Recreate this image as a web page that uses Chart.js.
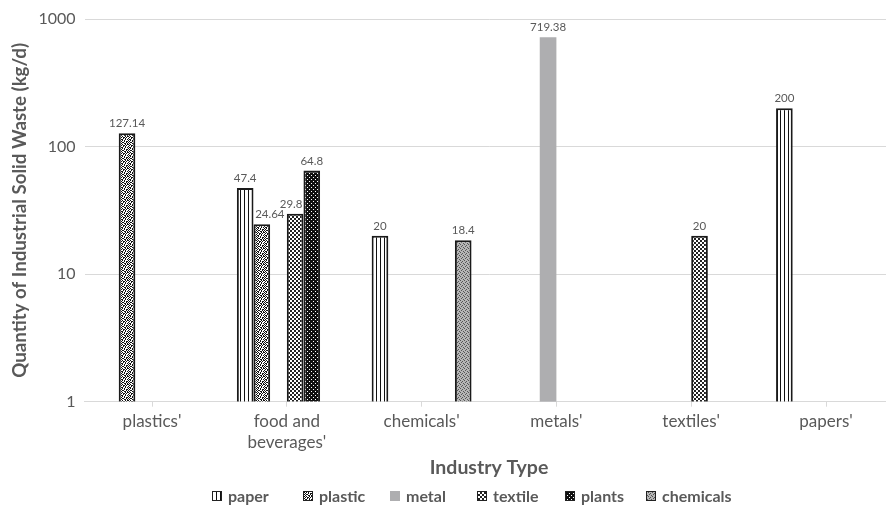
<!DOCTYPE html>
<html>
<head>
<meta charset="utf-8">
<script src="https://cdn.jsdelivr.net/npm/chart.js@4"></script>
<style>
  html, body { margin: 0; padding: 0; background: #fff; overflow: hidden; }
  #wrap { width: 900px; height: 510px; }
</style>
</head>
<body>
<div id="wrap"><canvas id="c" width="900" height="510"></canvas></div>
<script>
// Industry categories (x axis)
const categories = ["plastics'", ["food and", "beverages'"], "chemicals'", "metals'", "textiles'", "papers'"];
// Daily quantity of industrial solid waste per waste type (kg/d)
const paper     = [null, 47.4, 20, null, null, 200];
const plastic   = [127.14, 24.64, null, null, null, null];
const metal     = [null, null, null, 719.38, null, null];
const textile   = [null, 29.8, null, null, 20, null];
const plants    = [null, 64.8, null, null, null, null];
const chemicals = [null, null, 18.4, null, null, null];
// Log axis ticks
const yTicks = [1, 10, 100, 1000];

const FONT = "Lato, 'Open Sans', sans-serif";
const GREY = '#595959';

// Build a repeating fill from a tiny pixel map ('X' = ink, '.' = paper)
function makePattern(rows, ink, bg) {
  const c = document.createElement('canvas');
  c.width = rows[0].length; c.height = rows.length;
  const g = c.getContext('2d');
  g.fillStyle = bg; g.fillRect(0, 0, c.width, c.height);
  g.fillStyle = ink;
  rows.forEach((r, y) => { for (let x = 0; x < r.length; x++) if (r[x] === 'X') g.fillRect(x, y, 1, 1); });
  return g.createPattern(c, 'repeat');
}
const fills = {
  paper:     makePattern(['X...'], '#111', '#fff'),
  plastic:   makePattern(['X.X..X.X', '.X.XX.X.', 'X..X.X..', '.XX..X.X', 'X.X.X...', '.X..X.XX', 'X.XX..X.', '.X..XX.X'], '#111', '#fff'),
  metal:     '#aeaeb0',
  textile:   makePattern(['XX..', 'XX..', '..XX', '..XX'], '#222', '#fff'),
  plants:    makePattern(['XXXX', 'X.XX', 'XXXX', 'XXX.'], '#111', '#fff'),
  chemicals: makePattern(['X...', '..X.', '.X..', '...X'], '#555', '#b6b6b6')
};

const series = [
  { label: 'paper', data: paper, key: 'paper' },
  { label: 'plastic', data: plastic, key: 'plastic' },
  { label: 'metal', data: metal, key: 'metal' },
  { label: 'textile', data: textile, key: 'textile' },
  { label: 'plants', data: plants, key: 'plants' },
  { label: 'chemicals', data: chemicals, key: 'chemicals' }
];

// Value labels above each bar
const valueLabels = {
  id: 'valueLabels',
  afterDatasetsDraw(chart) {
    const ctx = chart.ctx;
    ctx.save();
    ctx.font = '11.5px ' + FONT;
    ctx.fillStyle = GREY;
    ctx.textAlign = 'center';
    ctx.textBaseline = 'alphabetic';
    const nudge = { '1:1': 8, '3:1': -4 };
    chart.data.datasets.forEach((ds, di) => {
      chart.getDatasetMeta(di).data.forEach((bar, i) => {
        const v = ds.data[i];
        if (v == null) return;
        const dx = nudge[di + ':' + i] || 0;
        ctx.fillText(String(v), bar.x + dx, bar.y - 6);
      });
    });
    ctx.restore();
  }
};

// Legend row along the bottom
const legendRow = {
  id: 'legendRow',
  afterDraw(chart) {
    const ctx = chart.ctx;
    const xs = [212, 303, 390, 477, 565, 646];
    const y = 496;
    ctx.save();
    ctx.font = 'bold 16px ' + FONT;
    ctx.textBaseline = 'middle';
    ctx.textAlign = 'left';
    chart.data.datasets.forEach((ds, i) => {
      const x = xs[i];
      ctx.fillStyle = ds.backgroundColor;
      ctx.fillRect(x, y - 5, 10, 10);
      if (ds.borderWidth) {
        ctx.strokeStyle = '#222';
        ctx.lineWidth = 1;
        ctx.strokeRect(x + 0.5, y - 4.5, 9, 9);
      }
      ctx.fillStyle = GREY;
      ctx.fillText(ds.label, x + 16, y + 1);
    });
    ctx.restore();
  }
};

new Chart(document.getElementById('c'), {
  type: 'bar',
  data: {
    labels: categories,
    datasets: series.map(s => ({
      label: s.label,
      data: s.data,
      backgroundColor: fills[s.key],
      borderColor: '#1a1a1a',
      borderWidth: s.key === 'metal' ? 0 : 2,
      categoryPercentage: 0.741,
      barPercentage: 1
    }))
  },
  options: {
    responsive: false,
    animation: false,
    devicePixelRatio: 1,
    layout: { padding: { left: 0, top: 19, right: 6.6, bottom: 30 } },
    plugins: { legend: { display: false }, tooltip: { enabled: false } },
    scales: {
      x: {
        offset: true,
        grid: { offset: false, drawOnChartArea: false, drawTicks: true, tickLength: 5, color: '#d9d9d9' },
        border: { display: true, color: '#d9d9d9' },
        ticks: { color: GREY, font: { family: FONT, size: 17, lineHeight: 1.25 }, padding: 4, maxRotation: 0, autoSkip: false },
        title: { display: true, text: 'Industry Type', color: GREY, font: { family: FONT, size: 19.5, weight: 'bold' }, padding: { top: 0, bottom: 1 } },
        afterFit(s) { s.height = 78.3; }
      },
      y: {
        type: 'logarithmic',
        min: 1, max: 1000,
        grid: { color: '#d9d9d9', drawTicks: false },
        border: { display: false },
        afterBuildTicks(s) { s.ticks = yTicks.map(v => ({ value: v })); },
        ticks: { color: GREY, font: { family: FONT, size: 16 }, padding: 9, callback: v => String(v) },
        title: { display: true, text: 'Quantity of Industrial Solid Waste (kg/d)', color: GREY, font: { family: FONT, size: 18.7, weight: 'bold' }, padding: { top: 9, bottom: 0 } },
        afterFit(s) { s.width = 84.6; }
      }
    }
  },
  plugins: [valueLabels, legendRow]
});
</script>
</body>
</html>
